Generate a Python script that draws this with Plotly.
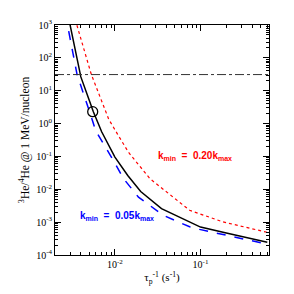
import plotly.graph_objects as go

# log10 of x (tau_p^-1) and log10 of y (3He/4He)
black_lx = [-2.55, -2.523, -2.45, -2.398, -2.301, -2.252, -2.155, -2.0, -1.85, -1.699, -1.456, -1.155, -1.0, -0.699, -0.301, -0.22]
black_ly = [3.33, 3.0, 2.0, 1.42, 0.72, 0.36, -0.25, -1.02, -1.58, -2.07, -2.59, -2.97, -3.15, -3.33, -3.57, -3.61]

blue_lx = [-2.58, -2.553, -2.442, -2.283, -2.225, -2.05, -1.898, -1.725, -1.436, -1.262, -1.127, -1.012, -0.699, -0.252, -0.22]
blue_ly = [3.35, 3.0, 1.49, 0.26, -0.22, -0.98, -1.68, -2.24, -2.79, -2.99, -3.14, -3.22, -3.39, -3.65, -3.67]

red_lx = [-2.47, -2.445, -2.275, -2.072, -1.97, -1.84, -1.59, -1.32, -1.127, -0.742, -0.252, -0.22]
red_ly = [3.35, 3.0, 1.49, 0.13, -0.32, -0.88, -1.68, -2.24, -2.64, -2.99, -3.29, -3.31]

hline_y = 31.0
circle_x = [0.0055]
circle_y = [2.3]

x_range_log = [-2.70, -0.20]
y_range_log = [-4, 3]

y_tickvals = [1e-4, 1e-3, 1e-2, 1e-1, 1e0, 1e1, 1e2, 1e3]
y_ticktext = ["10<sup>-4</sup>", "10<sup>-3</sup>", "10<sup>-2</sup>", "10<sup>-1</sup>",
              "10<sup>0</sup>", "10<sup>1</sup>", "10<sup>2</sup>", "10<sup>3</sup>"]
x_tickvals = [1e-2, 1e-1]
x_ticktext = ["10<sup>-2</sup>", "10<sup>-1</sup>"]

def p(v):
    return [10 ** a for a in v]

fig = go.Figure()
fig.add_trace(go.Scatter(x=p(red_lx), y=p(red_ly), mode="lines",
                         line=dict(color="red", width=1.2, dash="dot")))
fig.add_trace(go.Scatter(x=p(blue_lx), y=p(blue_ly), mode="lines",
                         line=dict(color="blue", width=1.5, dash="dash")))
fig.add_trace(go.Scatter(x=p(black_lx), y=p(black_ly), mode="lines",
                         line=dict(color="black", width=1.5)))
fig.add_trace(go.Scatter(x=[10 ** x_range_log[0], 10 ** x_range_log[1]], y=[hline_y, hline_y],
                         mode="lines", line=dict(color="#333333", width=1, dash="dashdot")))
fig.add_trace(go.Scatter(x=circle_x, y=circle_y, mode="markers",
                         marker=dict(symbol="circle-open", size=10, color="black",
                                     line=dict(width=1.3, color="black"))))

font_fam = "Liberation Serif"
fig.add_annotation(x=-1.06, y=-1.0, xref="x", yref="y",
                   text="<b>k<sub>min</sub>  =  0.20k<sub>max</sub></b>", showarrow=False,
                   font=dict(color="red", size=10, family="Liberation Sans"))
fig.add_annotation(x=-1.98, y=-2.82, xref="x", yref="y",
                   text="<b>k<sub>min</sub>  =  0.05k<sub>max</sub></b>", showarrow=False,
                   font=dict(color="blue", size=10, family="Liberation Sans"))

axis_common = dict(type="log", showgrid=False, zeroline=False, showline=True, linecolor="black",
                   linewidth=1, mirror="allticks", ticks="inside", ticklen=6, tickcolor="black",
                   minor=dict(ticks="inside", ticklen=3, tickcolor="black", dtick="D1", showgrid=False),
                   tickfont=dict(size=10, color="black", family=font_fam))

fig.update_xaxes(range=x_range_log, tickvals=x_tickvals, ticktext=x_ticktext,
                 title=dict(text="τ<sub>p</sub><sup>-1</sup> (s<sup>-1</sup>)", standoff=4,
                            font=dict(size=11, color="black", family=font_fam)),
                 **axis_common)
fig.update_yaxes(range=y_range_log, tickvals=y_tickvals, ticktext=y_ticktext,
                 title=dict(text="<sup>3</sup>He/<sup>4</sup>He @ 1 MeV/nucleon", standoff=4,
                            font=dict(size=11.5, color="black", family=font_fam)),
                 **axis_common)

fig.update_layout(width=294, height=294, showlegend=False,
                  margin=dict(l=55, r=25, t=25, b=37),
                  plot_bgcolor="white", paper_bgcolor="white")

fig.write_html("out.html", config={"displayModeBar": False},
               post_script="document.body.style.margin='0';")
